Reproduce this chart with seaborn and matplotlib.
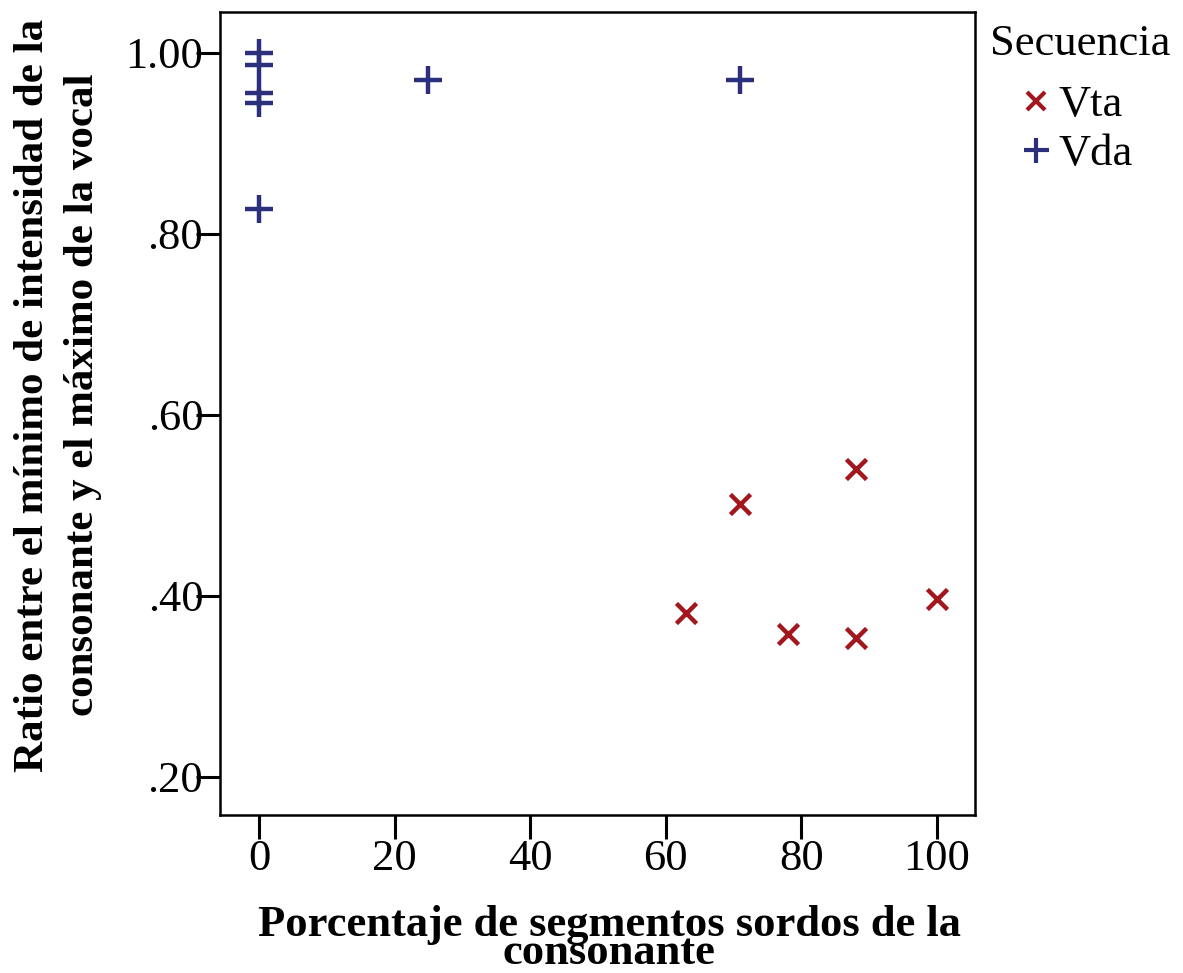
import matplotlib
matplotlib.use("Agg")
import matplotlib.pyplot as plt
from matplotlib.lines import Line2D
import seaborn as sns
import pandas as pd

# Data
vta_x = [63, 71, 88, 78, 88, 100]
vta_y = [0.381, 0.501, 0.540, 0.358, 0.353, 0.397]
vda_x = [0, 0, 0, 0, 0, 25, 71]
vda_y = [1.000, 0.986, 0.956, 0.944, 0.827, 0.970, 0.970]
x_ticks = [0, 20, 40, 60, 80, 100]
y_ticks = [0.20, 0.40, 0.60, 0.80, 1.00]
y_ticklabels = [".20", ".40", ".60", ".80", "1.00"]

red = "#a3161e"
blue = "#2b2f7c"

sns.set_theme(style="white")
plt.rcParams['font.family'] = ['Liberation Serif', 'DejaVu Serif']
plt.rcParams['text.color'] = 'black'

df_t = pd.DataFrame({"x": vta_x, "y": vta_y, "Secuencia": "Vta"})
df_d = pd.DataFrame({"x": vda_x, "y": vda_y, "Secuencia": "Vda"})

fig = plt.figure(figsize=(11.83, 9.73), dpi=100)
ax = fig.add_axes([220/1183, 1-815/973, (975-220)/1183, (815-12)/973])

sns.scatterplot(data=df_t, x="x", y="y", marker="x", s=210, color=red,
                linewidth=3.2, ax=ax, legend=False)
sns.scatterplot(data=df_d, x="x", y="y", marker="+", s=380, color=blue,
                linewidth=3.2, ax=ax, legend=False)

ax.set_xlim(-5.75, 105.6)
ax.set_ylim(0.158, 1.045)
ax.set_xticks(x_ticks)
ax.set_xticklabels([str(t) for t in x_ticks])
ax.set_yticks(y_ticks)
ax.set_yticklabels(y_ticklabels)
ax.tick_params(axis='both', which='major', direction='out', length=17,
               width=2.2, labelsize=32, color='black', labelcolor='black',
               bottom=True, left=True)
ax.tick_params(axis='y', pad=-5)
ax.tick_params(axis='x', pad=0)
for sp in ax.spines.values():
    sp.set_visible(True)
    sp.set_color('black')
    sp.set_linewidth(1.8)
ax.set_xlabel("")
ax.set_ylabel("")

fig.text(609/1183, 1-939/973, "Porcentaje de segmentos sordos de la\nconsonante",
         ha='center', va='center', fontsize=32, fontweight='bold', linespacing=0.64,
         color='black')
fig.text(58/1183, 1-395/973, "Ratio entre el mínimo de intensidad de la\nconsonante y el máximo de la vocal",
         ha='center', va='center', fontsize=31, fontweight='bold', rotation=90,
         linespacing=1.42, color='black')

fig.text(990/1183, 1-55/973, "Secuencia", ha='left', va='baseline', fontsize=32,
         color='black')

handles = [Line2D([], [], marker='x', color=red, linestyle='None', markersize=13, markeredgewidth=3),
           Line2D([], [], marker='+', color=blue, linestyle='None', markersize=18, markeredgewidth=3)]
leg = ax.legend(handles, ["Vta", "Vda"], loc='upper left',
                bbox_to_anchor=(1016/1183, 1-85/973), bbox_transform=fig.transFigure,
                frameon=False, fontsize=32, handletextpad=0.05,
                handlelength=0.9, labelspacing=0.2, borderaxespad=0, borderpad=0)
for t in leg.get_texts():
    t.set_color('black')

fig.savefig("out.png", dpi=100, facecolor='white')
